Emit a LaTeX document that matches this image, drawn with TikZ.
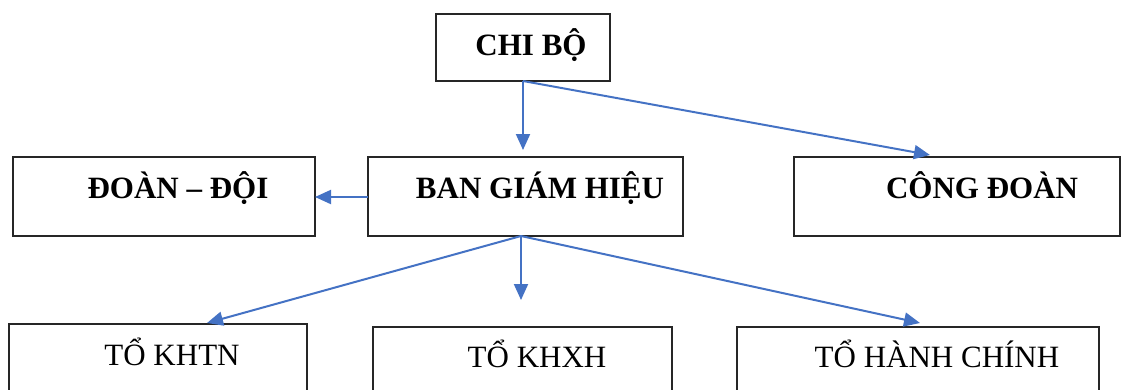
\documentclass[tikz,border=0pt]{standalone}
\usepackage{fontspec}
\setmainfont{Liberation Serif}
\usetikzlibrary{arrows.meta}
\definecolor{arrowblue}{RGB}{68,114,196}
\tikzset{
  box/.style={draw=black!85, line width=1.3pt, rectangle, inner sep=0pt},
  lbl/.style={anchor=base, inner sep=0pt, font=\fontsize{31}{31}\selectfont},
  blbl/.style={lbl, font=\fontsize{31}{31}\selectfont\bfseries},
  conn/.style={draw=arrowblue, line width=2pt, -{Triangle[length=16pt,width=14pt]}}
}
\begin{document}
\begin{tikzpicture}[x=1pt,y=-1pt]
\useasboundingbox (0,0) rectangle (1123,389);
\clip (0,0) rectangle (1123,389);
% boxes
\node[box, minimum width=174pt, minimum height=67pt] (chibo) at (523,47.5) {};
\node[box, minimum width=302pt, minimum height=79pt] (doan) at (164,196.5) {};
\node[box, minimum width=315pt, minimum height=79pt] (bgh) at (525.5,196.5) {};
\node[box, minimum width=326pt, minimum height=79pt] (cd) at (957,196.5) {};
\node[box, minimum width=298pt, minimum height=100pt] (khtn) at (158,374) {};
\node[box, minimum width=299pt, minimum height=100pt] (khxh) at (522.5,377) {};
\node[box, minimum width=362pt, minimum height=100pt] (hc) at (918,377) {};
% texts
\node[blbl] (tchibo) at (531,55) {CHI BỘ};
\node[blbl] (tdoan) at (178,198) {ĐOÀN – ĐỘI};
\node[blbl] (tbgh) at (540,198) {BAN GIÁM HIỆU};
\node[blbl] (tcd) at (982,198) {CÔNG ĐOÀN};
\node[lbl] (tkhtn) at (172,365) {TỔ KHTN};
\node[lbl] (tkhxh) at (537,367) {TỔ KHXH};
\node[lbl] (thc) at (937,367) {TỔ HÀNH CHÍNH};
% connector endpoints
\coordinate (c1) at (523,81);
\coordinate (c2) at (521,236);
\coordinate (t1) at (523,150);
\coordinate (t2) at (930,155);
\coordinate (t3) at (315,197);
\coordinate (t4) at (207,323);
\coordinate (t5) at (521,300);
\coordinate (t6) at (920,323);
\coordinate (s3) at (368,197);
% connectors
\draw[conn] (c1) -- (t1);
\draw[conn] (c1) -- (t2);
\draw[conn] (s3) -- (t3);
\draw[conn] (c2) -- (t4);
\draw[conn] (c2) -- (t5);
\draw[conn] (c2) -- (t6);
\end{tikzpicture}
\end{document}
